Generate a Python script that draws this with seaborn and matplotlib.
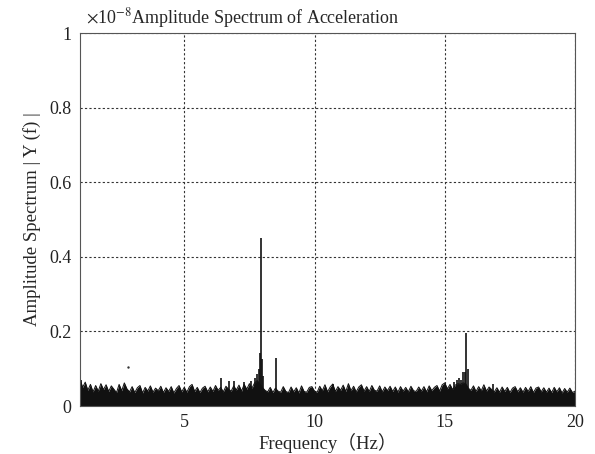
import numpy as np
import pandas as pd
import matplotlib
matplotlib.use('Agg')
import matplotlib.pyplot as plt
import seaborn as sns

# background noise, one value per 0.1 Hz from 1.0 to 20.0 Hz (x1e-8)
freq_start = 1.0
freq_step = 0.1
noise_amp = [
    0.072, 0.050, 0.064, 0.042, 0.058, 0.038, 0.055, 0.040, 0.060, 0.044,
    0.057, 0.039, 0.054, 0.045, 0.036, 0.058, 0.041, 0.062, 0.046, 0.038,
    0.052, 0.036, 0.049, 0.055, 0.035, 0.050, 0.040, 0.054, 0.037, 0.048,
    0.041, 0.053, 0.036, 0.049, 0.039, 0.052, 0.035, 0.047, 0.055, 0.038,
    0.050, 0.037, 0.052, 0.058, 0.039, 0.050, 0.036, 0.048, 0.053, 0.038,
    0.051, 0.039, 0.055, 0.042, 0.050, 0.038, 0.053, 0.045, 0.040, 0.054,
    0.043, 0.056, 0.040, 0.058, 0.045, 0.060, 0.048, 0.062, 0.068, 0.060,
    0.050, 0.042, 0.038, 0.050, 0.036, 0.048, 0.040, 0.037, 0.052, 0.039,
    0.036, 0.051, 0.038, 0.049, 0.035, 0.054, 0.039, 0.037, 0.050, 0.052,
    0.040, 0.037, 0.053, 0.041, 0.057, 0.038, 0.051, 0.059, 0.039, 0.052,
    0.042, 0.056, 0.039, 0.060, 0.041, 0.053, 0.038, 0.051, 0.057, 0.040,
    0.052, 0.039, 0.055, 0.042, 0.040, 0.054, 0.038, 0.051, 0.041, 0.053,
    0.039, 0.051, 0.037, 0.052, 0.040, 0.050, 0.038, 0.053, 0.041, 0.039,
    0.051, 0.040, 0.052, 0.038, 0.054, 0.041, 0.050, 0.055, 0.040, 0.057,
    0.062, 0.046, 0.058, 0.044, 0.056, 0.060, 0.058, 0.062, 0.060, 0.048,
    0.042, 0.054, 0.039, 0.052, 0.041, 0.057, 0.040, 0.051, 0.044, 0.038,
    0.049, 0.037, 0.051, 0.039, 0.050, 0.036, 0.048, 0.052, 0.038, 0.049,
    0.037, 0.050, 0.039, 0.052, 0.036, 0.048, 0.051, 0.038, 0.049, 0.037,
    0.048, 0.036, 0.050, 0.038, 0.049, 0.035, 0.047, 0.037, 0.048, 0.036,
    0.040,
]

# narrow spectral lines standing above the noise
peak_freq = [1.05, 6.4, 6.7, 6.9, 7.3, 7.55, 7.72, 7.8, 7.85, 7.89, 7.93, 7.97,
             8.02, 8.54, 10.7, 15.35, 15.45, 15.55, 15.62, 15.7, 15.76, 15.83,
             15.88, 16.85]
peak_amp = [0.070, 0.076, 0.068, 0.066, 0.064, 0.066, 0.075, 0.085, 0.100, 0.143,
            0.450, 0.125, 0.080, 0.130, 0.060, 0.065, 0.070, 0.076, 0.070, 0.092,
            0.090, 0.195, 0.100, 0.060]

# isolated point above the noise
dot_freq = [2.83]
dot_amp = [0.105]

x_ticks = [5, 10, 15, 20]
y_ticks = [0, 0.2, 0.4, 0.6, 0.8, 1]
y_tick_labels = ['0', '0.2', '0.4', '0.6', '0.8', '1']

freq = freq_start + freq_step * np.arange(len(noise_amp))
df = pd.DataFrame({'freq': freq, 'amp': noise_amp})
peaks = pd.DataFrame({'freq': peak_freq, 'amp': peak_amp})

sns.set_style('white')
plt.rcParams['font.family'] = ['Liberation Serif', 'Noto Sans CJK SC', 'DejaVu Sans']
plt.rcParams['mathtext.fontset'] = 'stix'

fig = plt.figure(figsize=(5.95, 4.54), dpi=100)
ax = fig.add_axes([0.1345, 0.1057, 0.832, 0.8216])

ax.fill_between(df['freq'], 0, df['amp'], color='#111111', lw=0)
sns.lineplot(data=df, x='freq', y='amp', ax=ax, color='#111111', lw=0.7)
ax.vlines(peaks['freq'], 0, peaks['amp'], color='#111111', lw=1.2)
sns.scatterplot(x=dot_freq, y=dot_amp, ax=ax, color='#333333', s=3, linewidth=0)

ax.set_xlim(1, 20)
ax.set_ylim(0, 1)
ax.set_xticks(x_ticks)
ax.set_yticks(y_ticks)
ax.set_yticklabels(y_tick_labels)
ax.grid(True, color='#333333', ls=(0, (2, 2)), lw=0.8)
ax.set_axisbelow(True)
ax.tick_params(direction='in', length=3, labelsize=13, colors='#222222', pad=6)
for s in ax.spines.values():
    s.set_color('#555555')
    s.set_linewidth(0.8)

ax.set_xlabel('Frequency（Hz）', fontsize=13.5, labelpad=1)
ax.set_ylabel('Amplitude Spectrum | Y (f) |', fontsize=13.5, labelpad=6)
ax.text(0.013, 1.008, r'$\times$10$^{-8}$Amplitude Spectrum of Acceleration',
        transform=ax.transAxes, fontsize=13, ha='left', va='bottom')

fig.savefig('out.png', dpi=100)
